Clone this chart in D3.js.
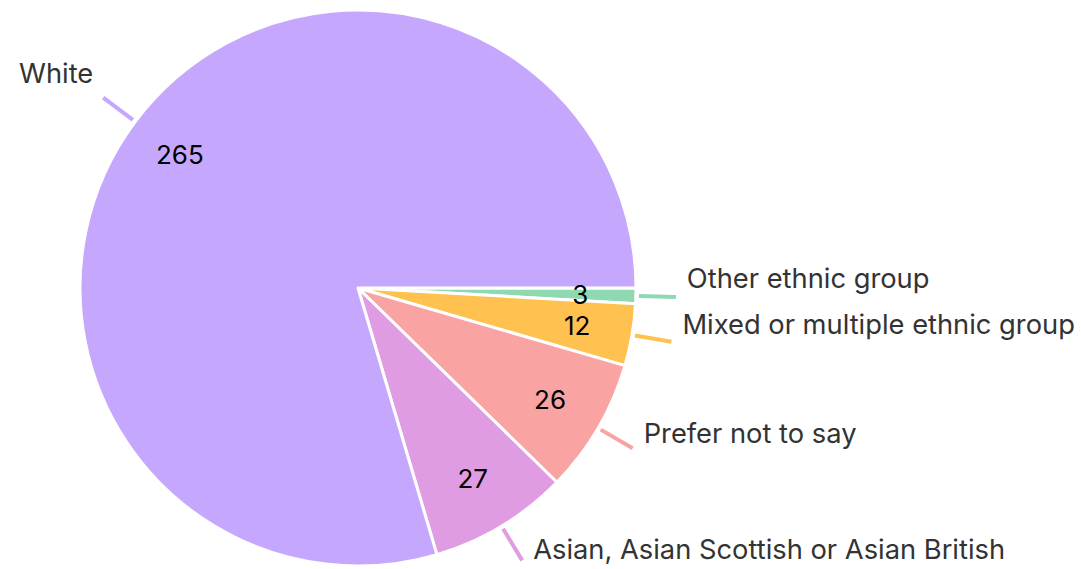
<!DOCTYPE html>
<html>
<head>
<meta charset="utf-8">
<script src="https://cdn.jsdelivr.net/npm/d3@7"></script>
<style>
  html, body { margin: 0; padding: 0; background: #fff; }
  svg { display: block; }
  text { font-family: Inter, "Noto Sans", sans-serif; }
</style>
</head>
<body>
<svg id="chart" width="1081" height="569"></svg>
<script>
// Respondents by ethnic group
const categories = [
  "Other ethnic group",
  "Mixed or multiple ethnic group",
  "Prefer not to say",
  "Asian, Asian Scottish or Asian British",
  "White"
];
const counts = [3, 12, 26, 27, 265];
const colors = ["#8fd9b0", "#ffc14f", "#f9a3a3", "#e09ce3", "#c5a8fe"];

const data = categories.map((c, i) => ({ name: c, value: counts[i], color: colors[i] }));

const svg = d3.select("#chart");
const cx = 358, cy = 288, radius = 278;

const g = svg.append("g").attr("transform", `translate(${cx},${cy})`);

// Slices run clockwise starting at 3 o'clock
const pie = d3.pie()
  .value(d => d.value)
  .sort(null)
  .startAngle(Math.PI / 2)
  .endAngle(Math.PI / 2 + 2 * Math.PI);

const arc = d3.arc().innerRadius(0).outerRadius(radius);
const arcs = pie(data);

g.selectAll("path.slice")
  .data(arcs)
  .join("path")
  .attr("class", "slice")
  .attr("d", arc)
  .attr("fill", d => d.data.color)
  .attr("stroke", "#fff")
  .attr("stroke-width", 3)
  .attr("stroke-linejoin", "round");

// d3 angle: 0 = 12 o'clock, clockwise; convert to screen x/y
const pt = (a, r) => [Math.sin(a) * r, -Math.cos(a) * r];
const mid = d => (d.startAngle + d.endAngle) / 2;

// Value labels inside the slices
g.selectAll("text.value")
  .data(arcs)
  .join("text")
  .attr("class", "value")
  .attr("x", d => pt(mid(d), radius * 0.8)[0])
  .attr("y", d => pt(mid(d), radius * 0.8)[1])
  .attr("text-anchor", "middle")
  .attr("dy", "0.36em")
  .attr("font-size", 26)
  .attr("fill", "#000")
  .text(d => d.value);

// Leader lines
g.selectAll("line.leader")
  .data(arcs)
  .join("line")
  .attr("class", "leader")
  .attr("x1", d => pt(mid(d), radius + 3)[0])
  .attr("y1", d => pt(mid(d), radius + 3)[1])
  .attr("x2", d => pt(mid(d), radius + 40)[0])
  .attr("y2", d => pt(mid(d), radius + 40)[1])
  .attr("stroke", d => d.data.color)
  .attr("stroke-width", 4);

// Category labels beside the leader lines
g.selectAll("text.name")
  .data(arcs)
  .join("text")
  .attr("class", "name")
  .each(function (d) {
    const a = mid(d);
    const [ex, ey] = pt(a, radius + 40);
    const right = Math.sin(a) >= 0;
    const s = -Math.cos(a); // downward component
    d3.select(this)
      .attr("x", ex + (right ? 11 : -10))
      .attr("y", ey - (19 - 9 * s))
      .attr("text-anchor", right ? "start" : "end");
  })
  .attr("dy", "0.35em")
  .attr("font-size", 27.3)
  .attr("fill", "#333")
  .text(d => d.data.name);
</script>
</body>
</html>
